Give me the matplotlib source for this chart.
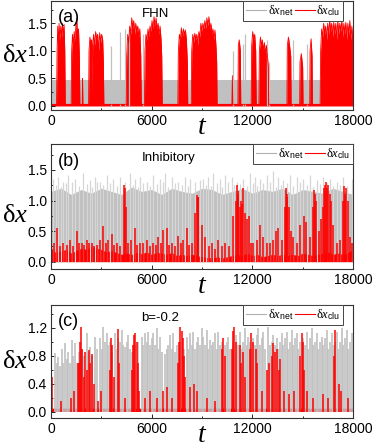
import numpy as np
import matplotlib
matplotlib.use('Agg')
import matplotlib.pyplot as plt
from matplotlib.ticker import MultipleLocator
from matplotlib.lines import Line2D

plt.rcParams['font.family'] = ['Liberation Sans', 'DejaVu Sans']
plt.rcParams['mathtext.fontset'] = 'custom'
plt.rcParams['mathtext.rm'] = 'Liberation Serif'
plt.rcParams['mathtext.it'] = 'Liberation Serif:italic'
plt.rcParams['mathtext.sf'] = 'Liberation Sans'

RED = '#ff0000'
GRAY = '#c0c0c0'
LGRAY = '#d6d6d6'

# ---------------- panel (a) FHN ----------------
# gray: flat band plus a few spikes
gray_a_band_end = 16100
gray_a_band_h = 0.48
gray_a_spk_t = [3580, 4110, 4410, 4650, 5480, 10850, 11430, 11560, 12860, 13000, 14440, 15240]
gray_a_spk_h = [1.08, 1.35, 1.40, 1.40, 1.30, 1.00, 1.13, 1.30, 1.20, 0.80, 1.20, 1.13]

# red: envelope of the bursts (t, height)
red_a_t = [0, 330, 360, 400, 440, 480, 530, 580, 630, 680, 730, 780, 820, 850,
           1200, 1230, 1280, 1330, 1380, 1430, 1480, 1530, 1580, 1640, 1690, 1720,
           1860, 1880, 1900,
           2240, 2265, 2320, 2380, 2425, 2450, 2480, 2540, 2600, 2660, 2720, 2780, 2840,
           2900, 2960, 3020, 3080, 3120, 3150,
           4480, 4510, 4570, 4630, 4690, 4750, 4810, 4870, 4930, 4990, 5050, 5110, 5170,
           5230, 5290, 5350, 5380,
           5570, 5600, 5660, 5720, 5780, 5840, 5900, 5960, 6020, 6080, 6140, 6200, 6260,
           6320, 6380, 6440, 6500, 6560, 6600, 6630,
           7560, 7590, 7650, 7710, 7770, 7830, 7890, 7950, 8010, 8070, 8125, 8150,
           8360, 8385, 8450, 8510, 8570, 8630, 8690, 8750, 8810, 8870, 8930, 8990, 9050,
           9110, 9170, 9230, 9290, 9350, 9410, 9470, 9530, 9590, 9650, 9710, 9770, 9830,
           9875, 9900,
           10780, 10810, 10840,
           11140, 11165, 11220, 11285, 11310,
           11930, 11960, 12020, 12080, 12140, 12200, 12230,
           12390, 12420, 12480, 12540, 12600, 12660, 12720, 12780, 12840, 12900, 12950, 12980,
           14060, 14085, 14150, 14220, 14290, 14310,
           14820, 14840, 14920, 15000, 15020,
           15420, 15440, 15500, 15560, 15580,
           16040, 16070, 16130, 16190, 16250, 16310, 16370, 16430, 16490, 16550, 16610,
           16670, 16730, 16790, 16850, 16910, 16970, 17030, 17090, 17150, 17210, 17270,
           17330, 17390, 17450, 17510, 17570, 17630, 17690, 17750, 17810, 17870, 17930, 18000]
red_a_h = [0.03, 0.03, 1.0, 1.45, 1.1, 1.5, 1.2, 1.45, 1.25, 1.5, 1.3, 1.48, 1.0, 0.03,
           0.03, 1.0, 1.3, 1.1, 1.35, 1.2, 1.45, 1.58, 1.3, 1.4, 0.9, 0.03,
           0.03, 0.5, 0.03,
           0.03, 1.0, 1.25, 1.1, 1.2, 0.2, 1.1, 1.3, 1.1, 1.35, 1.2, 1.3, 1.0,
           1.33, 1.15, 1.3, 1.2, 0.8, 0.03,
           0.03, 0.9, 1.3, 1.15, 1.45, 1.3, 1.6, 1.4, 1.55, 1.3, 1.5, 1.35, 1.45,
           1.25, 1.4, 0.9, 0.03,
           0.03, 1.0, 1.3, 1.2, 1.4, 1.25, 1.45, 1.35, 1.55, 1.4, 1.62, 1.45, 1.6,
           1.4, 1.5, 1.3, 1.45, 1.2, 0.9, 0.03,
           0.03, 1.0, 1.3, 1.2, 1.42, 1.25, 1.4, 1.3, 1.38, 1.2, 0.8, 0.03,
           0.03, 1.0, 1.3, 1.15, 1.32, 1.2, 1.3, 1.1, 1.35, 1.25, 1.5, 1.35, 1.5,
           1.4, 1.55, 1.4, 1.6, 1.45, 1.62, 1.4, 1.5, 1.3, 1.4, 1.2, 1.38, 1.1,
           0.8, 0.03,
           0.03, 0.55, 0.03,
           0.03, 1.1, 1.2, 1.0, 0.03,
           0.03, 1.1, 1.35, 1.2, 1.3, 1.0, 0.03,
           0.03, 1.0, 1.25, 1.1, 1.2, 1.0, 1.15, 0.95, 1.1, 0.9, 0.7, 0.03,
           0.03, 1.1, 1.25, 1.1, 0.9, 0.03,
           0.03, 0.8, 0.95, 0.7, 0.03,
           0.03, 1.0, 1.22, 0.9, 0.03,
           0.03, 1.0, 1.4, 1.25, 1.5, 1.3, 1.45, 1.2, 1.5, 1.3, 1.55,
           1.35, 1.5, 1.25, 1.52, 1.3, 1.5, 1.2, 1.55, 1.3, 1.5, 1.35,
           1.55, 1.25, 1.5, 1.3, 1.52, 1.2, 1.5, 1.3, 1.55, 1.2, 1.45, 1.1]

# ---------------- panel (b) Inhibitory ----------------
gray_b_base_t = [0, 600, 1200, 1800, 2400, 3000, 3600, 4200, 4800, 5400, 6000, 6600, 7200, 7800,
                 8400, 9000, 9600, 10200, 10800, 11400, 12000, 12600, 13200, 13800, 14400,
                 15000, 15600, 16200, 16800, 17400, 18000]
gray_b_base_h = [1.15, 1.2, 1.1, 1.18, 1.12, 1.2, 1.15, 1.1, 1.22, 1.15, 1.18, 1.1, 1.2, 1.15,
                 1.12, 1.2, 1.18, 1.1, 1.15, 1.2, 1.12, 1.18, 1.15, 1.2, 1.1, 1.18, 1.15,
                 1.12, 1.2, 1.15, 1.1]
gray_b_spk_t = [139, 437, 735, 1033, 1430, 1927, 2324, 2622, 2920, 3318, 3715, 4113, 4709,
                5007, 5305, 5702, 6100, 6497, 6795, 7193, 7590, 7987, 8285, 8882,
                9079, 9377, 9675, 10072, 10370, 10768, 11066, 11463, 11861, 12159, 12457,
                12854, 13251, 13549, 13848, 14245, 14642, 15040, 15437, 15835, 16232,
                16629, 17027, 17424, 17921,
                290, 590, 880, 1230, 1680, 2130, 2470, 2770, 3120, 3520, 3910, 4400, 4860,
                5160, 5500, 5900, 6300, 6650, 7000, 7400, 7790, 8140, 8580, 9230, 9520,
                9870, 10220, 10570, 10920, 11260, 11660, 12010, 12300, 12650, 13050,
                13400, 13700, 14050, 14450, 14840, 15240, 15640, 16030, 16430, 16830,
                17230, 17650]
gray_b_spk_h = [1.36, 1.39, 1.31, 1.42, 1.36, 1.45, 1.33, 1.39, 1.31, 1.42, 1.36, 1.39, 1.45,
                1.36, 1.39, 1.31, 1.42, 1.36, 1.45, 1.39, 1.31, 1.39, 1.36, 1.34,
                1.36, 1.39, 1.45, 1.36, 1.42, 1.39, 1.31, 1.36, 1.45, 1.39, 1.36,
                1.42, 1.48, 1.39, 1.34, 1.42, 1.39, 1.36, 1.42, 1.34, 1.39,
                1.36, 1.31, 1.39, 1.36,
                1.25, 1.22, 1.28, 1.3, 1.24, 1.27, 1.22, 1.3, 1.25, 1.28, 1.23, 1.3, 1.26,
                1.22, 1.29, 1.24, 1.27, 1.3, 1.22, 1.28, 1.25, 1.23, 1.3, 1.26, 1.24,
                1.28, 1.22, 1.3, 1.25, 1.27, 1.23, 1.29, 1.24, 1.28, 1.3,
                1.22, 1.26, 1.28, 1.24, 1.3, 1.25, 1.22, 1.27, 1.29, 1.24,
                1.26, 1.23]

red_b_base_t = [0, 300, 600, 900, 1200, 1500, 1800, 2100, 2400, 2700, 3000, 3300, 3600, 3900,
                4200, 4500, 4800, 5100, 5400, 5700, 6000, 6300, 6600, 6900, 7200, 7500,
                7800, 8100, 8400, 8700, 9000, 9300, 9600, 9900, 10200, 10500, 10800, 11100,
                11400, 11700, 12000, 12300, 12600, 12900, 13200, 13500, 13800, 14100,
                14400, 14700, 15000, 15300, 15600, 15900, 16200, 16500, 16800, 17100,
                17400, 17700, 18000]
red_b_base_h = [0.2, 0.15, 0.18, 0.2, 0.14, 0.18, 0.22, 0.2, 0.25, 0.22, 0.2, 0.16, 0.18, 0.15,
                0.12, 0.14, 0.12, 0.15, 0.13, 0.16, 0.12, 0.15, 0.14, 0.12, 0.15, 0.1,
                0.12, 0.1, 0.12, 0.1, 0.08, 0.07, 0.06, 0.08, 0.06, 0.08, 0.1, 0.12,
                0.1, 0.14, 0.1, 0.12, 0.08, 0.1, 0.12, 0.1, 0.12, 0.1,
                0.12, 0.1, 0.14, 0.12, 0.1, 0.12, 0.14, 0.16, 0.12, 0.14,
                0.12, 0.15, 0.2]
red_b_spk_t = [40, 180, 337, 520, 735, 930, 1130, 1330, 1530, 1680, 1830, 1980, 2126, 2280,
               2420, 2570, 2720, 2900, 3119, 3270, 3420, 3616, 3780, 3910, 4100, 4351,
               4410, 4470, 4600, 4760, 5007, 5150, 5310, 5500, 5700, 5900, 6100, 6250, 6400,
               6550, 6696, 6895, 7050, 7190, 7400, 7590, 7750, 7890, 8087, 8230, 8380,
               8583, 8683, 8740, 8782, 8980,
               9178, 9400, 9576, 9780, 9973, 10170, 10370, 10600, 10867, 11020, 11066,
               11120, 11165, 11250, 11340, 11400, 11463, 11560, 11660, 11821, 11950, 12060,
               12250, 12457, 12660, 12850, 13050, 13250, 13410, 13550, 13750, 13950, 14006,
               14050, 14086, 14200, 14300, 14440, 14650, 14841, 15080, 15200, 15440, 15620,
               15676, 15740, 15795, 16000, 16100, 16200, 16271, 16330, 16391, 16460, 16530,
               16600, 16669, 16830, 17030, 17230, 17400, 17464, 17520, 17583, 17700, 17850,
               17920]
red_b_spk_h = [0.2, 0.3, 0.55, 0.25, 0.3, 0.28, 0.35, 0.25, 0.5, 0.3, 0.3, 0.28, 0.35, 0.3,
               0.3, 0.25, 0.28, 0.35, 0.58, 0.3, 0.35, 0.45, 0.28, 0.3, 0.25, 1.26,
               1.2, 0.9, 0.3, 0.35, 0.55, 0.28, 0.3, 0.3, 0.35, 0.25, 0.3, 0.28, 0.4,
               0.3, 0.52, 0.55, 0.28, 0.3, 0.25, 0.42, 0.3, 0.35, 0.55, 0.28, 0.3,
               0.8, 1.09, 1.05, 1.05, 0.6,
               0.4, 0.25, 0.3, 0.2, 0.35, 0.25, 0.3, 0.25, 0.74, 1.0, 1.26,
               1.1, 1.15, 0.9, 1.0, 0.95, 1.2, 0.8, 0.7, 0.75, 0.3, 0.3,
               0.35, 0.6, 0.4, 0.3, 0.3, 0.35, 0.5, 0.55, 0.35, 0.9, 1.2,
               1.1, 1.05, 0.9, 0.5, 0.4, 0.3, 0.6, 0.75, 0.65, 0.4, 0.9,
               1.17, 1.1, 1.0, 0.5, 0.7, 0.9, 1.2, 1.25, 1.31, 1.2, 1.25,
               1.1, 1.0, 0.6, 0.3, 0.35, 1.0, 1.23, 1.1, 1.2, 1.0, 0.4,
               0.3]

# ---------------- panel (c) b=-0.2 ----------------
gray_c_spk_t = [0, 240, 340, 437, 535, 635, 735, 834, 935, 1033, 1130, 1231, 1330, 1430,
                1530, 1640, 1750, 1860, 1980, 2126, 2220, 2324, 2420, 2622, 2720, 2920,
                3020, 3119, 3220, 3318, 3420, 3520, 3620, 3815, 3920, 4020, 4110, 4212,
                4311, 4411, 4510, 4610, 4710, 4820, 5020, 5210, 5404, 5503, 5603, 5700,
                5802, 5900, 6000, 6100, 6200, 6298, 6400, 6497, 6600, 6795, 6900, 7000,
                7093, 7190, 7292, 7400, 7500, 7700, 7900, 8087, 8190, 8285, 8380, 8484,
                8580, 8680, 8782, 8880, 8981,
                9079, 9180, 9277, 9380, 9476, 9580, 9680, 9774, 9870, 9973, 10070, 10170,
                10370, 10470, 10569, 10670, 10870, 11000, 11160, 11264, 11360, 11462, 11562,
                11660, 11761, 11860, 11960, 12060, 12160, 12257, 12357, 12460, 12560, 12655,
                12760, 12953, 13050, 13150, 13251, 13350, 13450, 13550, 13648, 13748, 13850,
                13950, 14046, 14150, 14250, 14344, 14440, 14540, 14642, 14740, 14840, 15040,
                15140, 15238, 15340, 15440, 15536, 15640, 15740, 15835, 15940, 16040, 16133,
                16230, 16330, 16431, 16530, 16630, 16729, 16830, 16930, 17027, 17130,
                17230, 17325, 17420, 17520, 17623, 17720, 17820, 17921]
gray_c_spk_h = [1.0, 0.84, 0.7, 0.78, 0.65, 0.9, 0.7, 0.98, 0.75, 0.85, 0.7, 1.03, 0.8, 0.98,
                0.7, 0.85, 0.75, 0.9, 0.8, 1.12, 0.85, 0.93, 0.8, 1.07, 0.9, 1.05,
                0.9, 1.21, 1.0, 1.12, 0.95, 1.0, 0.85, 1.12, 0.9, 1.05, 1.0, 1.17,
                0.95, 0.93, 1.0, 1.1, 0.9, 0.85, 0.95, 1.0, 1.07, 0.95, 1.12, 1.0,
                1.14, 0.95, 1.05, 1.12, 0.95, 1.19, 0.9, 1.07, 0.85, 0.83, 0.9, 0.95,
                1.09, 0.9, 1.12, 0.85, 0.95, 1.0, 0.9, 1.07, 0.9, 1.12, 0.95, 1.14,
                0.9, 1.0, 1.07, 0.95, 1.19,
                1.07, 0.95, 1.17, 0.9, 1.02, 0.95, 1.0, 1.12, 0.9, 1.14, 0.95, 1.0,
                0.95, 1.0, 1.07, 0.9, 1.0, 1.1, 0.95, 1.14, 0.9, 1.0, 1.19,
                0.95, 1.07, 1.0, 0.9, 1.05, 0.95, 1.1, 1.19, 0.95, 1.05, 1.14,
                0.9, 1.21, 0.95, 1.0, 1.09, 0.95, 1.05, 0.9, 1.0, 1.12, 0.95,
                1.05, 1.14, 0.9, 1.0, 1.17, 0.95, 1.05, 1.12, 0.9, 1.0, 1.05,
                0.95, 1.14, 0.9, 1.05, 1.19, 0.95, 1.0, 1.12, 0.9, 1.0, 1.07,
                0.95, 1.05, 1.17, 0.9, 1.0, 1.12, 0.95, 1.0, 1.14, 0.9,
                1.0, 1.19, 0.95, 1.05, 1.17, 0.9, 1.0, 1.12]

red_c_spk_t = [20, 60, 600, 1200, 1400, 1600, 1650, 1720, 1800, 1870, 1950, 2050, 2150, 2250,
               2350, 2450, 2550, 2800, 3000, 3500, 3580, 3660, 3750, 4000, 4080, 4400,
               4800, 4870, 4950, 5020, 5100, 5180, 5250, 5600, 5900, 6300, 6700, 6900, 7200,
               7550, 7620, 7700, 7780, 7850, 7930, 8000, 8300, 8500, 8700,
               9300, 9800, 10200, 10280, 10350, 10780, 10850, 10930, 11010, 11280, 11350,
               11450, 11540, 11880, 11950, 12030, 12200, 12300, 12600, 12880, 12980, 13170,
               13250, 13330, 13480, 13560, 13640, 13900, 14200, 14500, 14860, 14940, 15020,
               15080, 15240, 15600, 16200, 16500, 16850, 16900, 17150, 17300, 17700]
red_c_spk_h = [0.98, 0.5, 0.15, 0.2, 0.3, 0.7, 0.7, 1.0, 1.21, 0.9, 0.5, 0.85, 0.6, 0.88,
               0.7, 0.82, 0.4, 0.15, 0.3, 0.6, 1.05, 0.95, 0.5, 1.18, 0.7, 0.2,
               0.6, 0.95, 1.1, 1.12, 1.0, 0.7, 0.3, 0.2, 0.3, 0.2, 0.3, 0.35, 0.2,
               0.7, 1.0, 1.21, 1.15, 1.05, 0.8, 0.5, 0.35, 0.4, 0.3,
               0.2, 0.15, 0.9, 1.05, 0.8, 0.9, 1.15, 1.21, 1.0, 0.95, 0.7,
               0.85, 0.5, 0.9, 1.12, 1.0, 0.9, 0.7, 0.3, 0.6, 0.7, 0.8,
               0.98, 0.85, 0.9, 0.6, 0.75, 0.3, 0.25, 0.3, 0.8, 1.12, 1.0,
               0.6, 0.3, 0.2, 0.25, 0.2, 0.8, 1.16, 0.4, 0.3, 0.2]

panel_names = ['(a)', '(b)', '(c)']
panel_titles = ['FHN', 'Inhibitory', 'b=-0.2']
xticks = [0, 6000, 12000, 18000]

# figure layout (fractions of the 374x447 px figure)
fig = plt.figure(figsize=(3.74, 4.47), dpi=100)
L, W = 51 / 374, 302 / 374
ax_a = fig.add_axes([L, 1 - 110 / 447, W, 109 / 447])
ax_b = fig.add_axes([L, 1 - 269 / 447, W, 125 / 447])
ax_c = fig.add_axes([L, 1 - 418 / 447, W, 113 / 447])
axes = [ax_a, ax_b, ax_c]

# (a)
ax_a.fill_between([0, gray_a_band_end], 0, gray_a_band_h, color=GRAY, lw=0)
ax_a.vlines(gray_a_spk_t, 0, gray_a_spk_h, color=GRAY, lw=0.9)
ax_a.fill_between(red_a_t, 0, red_a_h, color=RED, lw=0)
ax_a.plot(red_a_t, red_a_h, color=RED, lw=0.6)
ax_a.fill_between([0, 18000], 0, 0.04, color=RED, lw=0)

# (b)
ax_b.fill_between(gray_b_base_t, 0, gray_b_base_h, color=GRAY, lw=0)
ax_b.vlines(gray_b_spk_t, 0, gray_b_spk_h, color=LGRAY, lw=0.9)
ax_b.fill_between(red_b_base_t, 0, red_b_base_h, color=RED, lw=0)
ax_b.vlines(red_b_spk_t, 0, red_b_spk_h, color=RED, lw=1.1)

# (c)
ax_c.fill_between([0, 18000], 0, 0.05, color=GRAY, lw=0)
ax_c.vlines(gray_c_spk_t, 0, gray_c_spk_h, color=GRAY, lw=1.2)
ax_c.fill_between([0, 18000], 0, 0.04, color=RED, lw=0)
ax_c.vlines(red_c_spk_t, 0, red_c_spk_h, color=RED, lw=1.1)

ax_a.set_ylim(-0.073, 1.905)
ax_b.set_ylim(-0.12, 1.925)
ax_c.set_ylim(-0.09, 1.524)
ax_a.yaxis.set_major_locator(MultipleLocator(0.5))
ax_b.yaxis.set_major_locator(MultipleLocator(0.5))
ax_c.yaxis.set_major_locator(MultipleLocator(0.4))
ax_a.yaxis.set_minor_locator(MultipleLocator(0.25))
ax_b.yaxis.set_minor_locator(MultipleLocator(0.25))
ax_c.yaxis.set_minor_locator(MultipleLocator(0.2))

handles = [Line2D([], [], color='#b0b0b0', lw=0.8), Line2D([], [], color=RED, lw=0.8)]
labels = ['δ$x_{\\mathsf{net}}$', 'δ$x_{\\mathsf{clu}}$']
leg_right = [0.967, 1.0, 0.967]
ylab_y = [0.5, 0.42, 0.5]

for i, ax in enumerate(axes):
    ax.set_xlim(0, 18000)
    ax.set_xticks(xticks)
    ax.xaxis.set_minor_locator(MultipleLocator(3000))
    ax.tick_params(which='both', direction='in', width=0.6, labelsize=10, pad=3)
    ax.tick_params(which='major', length=3)
    ax.tick_params(which='minor', length=1.5)
    for sp in ax.spines.values():
        sp.set_linewidth(0.8)
        sp.set_color('#333333')
    ax.set_xlabel('$t$', fontsize=20, labelpad=-10)
    ax.set_ylabel('δ$x$', fontsize=19, rotation=0, family=['Liberation Serif', 'DejaVu Serif'])
    ax.yaxis.set_label_coords(-0.162, ylab_y[i])
    ax.yaxis.label.set_va('center')
    ax.yaxis.label.set_ha('left')
    ax.text(0.022, 0.93, panel_names[i], transform=ax.transAxes, fontsize=13,
            ha='left', va='top')
    ax.text(0.3, 0.94, panel_titles[i], transform=ax.transAxes, fontsize=9.5,
            ha='left', va='top')
    leg = ax.legend(handles, labels, loc='upper right', bbox_to_anchor=(leg_right[i], 1.0),
                    ncol=2, fancybox=False, edgecolor='#444444', framealpha=1,
                    borderaxespad=0, handlelength=1.6, handletextpad=0.15,
                    columnspacing=0.1, borderpad=0.2,
                    prop={'family': ['Liberation Serif', 'DejaVu Serif'], 'size': 9})
    leg.get_frame().set_linewidth(0.7)

fig.savefig('out.png', dpi=100)
